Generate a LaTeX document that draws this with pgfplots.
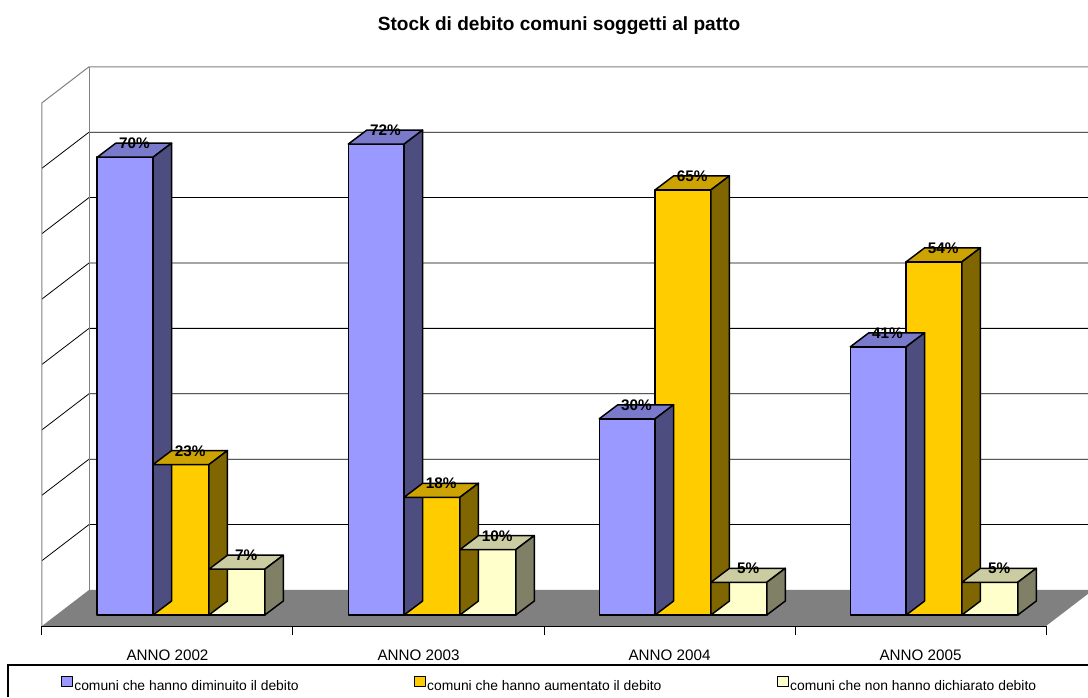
\documentclass[border=0pt]{standalone}
\usepackage{pgfplots}
\pgfplotsset{compat=1.18}
\usepackage{pgfplotstable}
\usepackage{fontspec}
\setmainfont{Liberation Sans}

% face colours: front, top, side
\definecolor{dimF}{HTML}{9999FF}
\definecolor{dimT}{HTML}{7A7ACC}
\definecolor{dimS}{HTML}{4D4D80}
\definecolor{aumF}{HTML}{FFCC00}
\definecolor{aumT}{HTML}{CCA300}
\definecolor{aumS}{HTML}{806600}
\definecolor{nonF}{HTML}{FFFFCC}
\definecolor{nonT}{HTML}{CCCCA3}
\definecolor{nonS}{HTML}{808066}
\definecolor{floorgray}{HTML}{808080}
\definecolor{wallgray}{HTML}{808080}

% percentages per year
\pgfplotstableread{
x dim aum non
0 70  23  7
1 72  18  10
2 30  65  5
3 41  54  5
}\debito

% bar geometry in pt: half front width, depth offsets, y unit
\def\bhw{20.94}
\def\ddx{13.9}
\def\ddy{10.5}
\def\yu{4.905}

% top face of a bar, origin at the middle of the front top edge
\pgfdeclareplotmark{bartop}{%
  \pgfpathmoveto{\pgfpoint{-\bhw pt}{0pt}}%
  \pgfpathlineto{\pgfpoint{\bhw pt}{0pt}}%
  \pgfpathlineto{\pgfpoint{(\bhw+\ddx)*1pt}{\ddy pt}}%
  \pgfpathlineto{\pgfpoint{(\ddx-\bhw)*1pt}{\ddy pt}}%
  \pgfpathclose
  \pgfusepathqfillstroke}
% right side face of a bar, height taken from \barv
\pgfdeclareplotmark{barside}{%
  \pgfpathmoveto{\pgfpoint{\bhw pt}{0pt}}%
  \pgfpathlineto{\pgfpoint{(\bhw+\ddx)*1pt}{\ddy pt}}%
  \pgfpathlineto{\pgfpoint{(\bhw+\ddx)*1pt}{(\ddy-\barv*\yu)*1pt}}%
  \pgfpathlineto{\pgfpoint{\bhw pt}{(0-\barv*\yu)*1pt}}%
  \pgfpathclose
  \pgfusepathqfillstroke}

\tikzset{faceline/.style={draw=black, line width=1.1pt, line join=round}}

\pgfplotsset{
  front/.style 2 args={ybar, bar width=0.2225, bar shift=#1, fill=#2, faceline,
    legend image code/.code={\draw[fill=#2, draw=black, line width=0.6pt]
      (0pt,-0.6pt) rectangle (7.9pt,7.3pt);}},
  topface/.style={forget plot, only marks, mark=bartop,
    mark options={fill=#1, faceline}},
  sideface/.style={forget plot, only marks, mark=barside,
    visualization depends on={rawy \as \barv},
    mark options={fill=#1, faceline}},
  barlabel/.style={forget plot, draw=none, point meta=rawy,
    /pgf/number format/assume math mode=true,
    nodes near coords={\pgfmathprintnumber{\pgfplotspointmeta}\%},
    every node near coord/.append style={anchor=base, inner sep=0pt,
      xshift=6.95pt, yshift=6.3pt, font=\bfseries\fontsize{11.5}{13}\selectfont}},
}

\begin{document}
\begin{tikzpicture}
\begin{axis}[
  x=188.25pt, y=4.905pt,
  xmin=-0.5538, xmax=3.4462, ymin=-1.682, ymax=83.823,
  clip=false, axis on top,
  axis x line*=bottom, axis y line=none,
  x axis line style={-, black, line width=0.75pt},
  xtick={-0.5538,0.4462,1.4462,2.4462,3.4462},
  xticklabels={ANNO 2002,ANNO 2003,ANNO 2004,ANNO 2005},
  x tick label as interval,
  tick align=outside, major tick length=6.75pt,
  tick style={black, line width=0.75pt},
  xticklabel style={anchor=base, yshift=-19.3pt, inner sep=0pt,
    font=\fontsize{11.4}{13}\selectfont},
  title={Stock di debito comuni soggetti al patto},
  title style={at={(axis description cs:0.51495,1.0658)}, anchor=base,
    yshift=-6.6pt, inner sep=0pt, font=\bfseries\fontsize{14.3}{17}\selectfont},
  legend style={at={(axis description cs:0.018925,-0.10371)}, anchor=west,
    draw=none, fill=none, inner sep=0pt, nodes={inner sep=0pt},
    font=\fontsize{10.4}{12.5}\selectfont, legend columns=3,
    /tikz/every odd column/.append style={column sep=1.3pt}},
  legend cell align=left,
]
% page corners
\coordinate (bbSW) at (axis cs:-0.7211,-12.538);
\coordinate (bbNE) at (axis cs:3.6135,94.037);

% floor
\fill[floorgray] (axis cs:-0.5538,-1.682) -- (axis cs:3.4462,-1.682)
  -- (axis cs:3.6335,3.823) -- (axis cs:-0.3665,3.823) -- cycle;
% gridlines on the side and back walls
\pgfplotsinvokeforeach{8.318,18.318,28.318,38.318,48.318,58.318,68.318}{
  \draw[black, line width=0.6pt] (axis cs:-0.5538,#1)
    -- (axis cs:-0.3665,#1+5.505) -- (axis cs:3.6135,#1+5.505);
}
% wall borders
\draw[wallgray, line width=0.75pt] (axis cs:-0.5538,-1.682) -- (axis cs:-0.5538,78.318)
  -- (axis cs:-0.3665,83.823) -- (axis cs:3.6135,83.823);
\draw[wallgray, line width=0.75pt] (axis cs:-0.3665,3.823) -- (axis cs:-0.3665,83.823);

% comuni che hanno diminuito il debito
\addplot[front={-0.2225}{dimF}] table[x=x, y=dim] {\debito};
\addlegendentry{\makebox[254.8pt][l]{comuni che hanno diminuito il debito}}
\addplot[topface=dimT] table[x expr=\thisrow{x}-0.2225, y=dim] {\debito};
\addplot[sideface=dimS] table[x expr=\thisrow{x}-0.2225, y=dim] {\debito};

% comuni che hanno aumentato il debito
\addplot[front={0}{aumF}] table[x=x, y=aum] {\debito};
\addlegendentry{\makebox[262.5pt][l]{comuni che hanno aumentato il debito}}
\addplot[topface=aumT] table[x=x, y=aum] {\debito};
\addplot[sideface=aumS] table[x=x, y=aum] {\debito};

% comuni che non hanno dichiarato debito
\addplot[front={0.2225}{nonF}] table[x=x, y=non] {\debito};
\addlegendentry{comuni che non hanno dichiarato debito}
\addplot[topface=nonT] table[x expr=\thisrow{x}+0.2225, y=non] {\debito};
\addplot[sideface=nonS] table[x expr=\thisrow{x}+0.2225, y=non] {\debito};

% value labels
\addplot[barlabel] table[x expr=\thisrow{x}-0.2225, y=dim] {\debito};
\addplot[barlabel] table[x=x, y=aum] {\debito};
\addplot[barlabel] table[x expr=\thisrow{x}+0.2225, y=non] {\debito};

% legend frame
\draw[black, line width=0.9pt] (axis cs:-0.6892,-12.538) |- (axis cs:3.6135,-7.645);
\end{axis}
\pgfresetboundingbox
\useasboundingbox (bbSW) rectangle (bbNE);
\end{tikzpicture}
\end{document}
